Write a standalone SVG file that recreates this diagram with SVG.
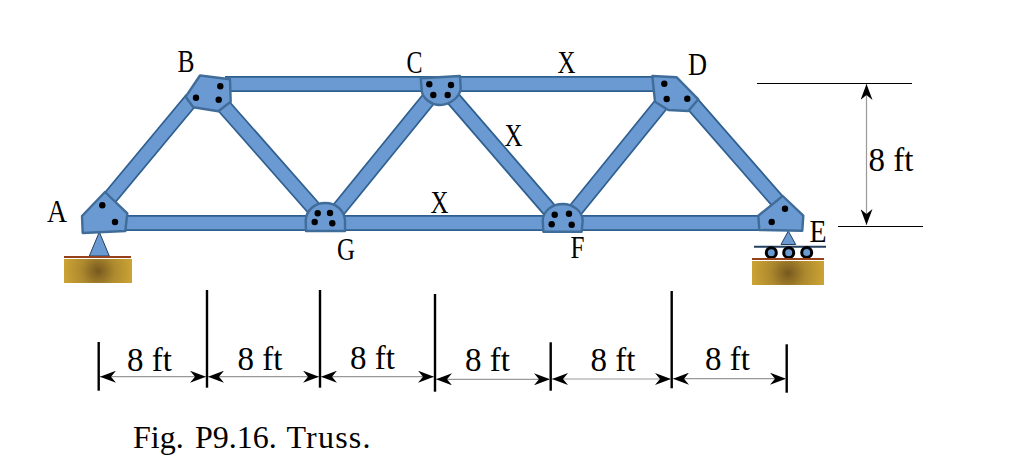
<svg xmlns="http://www.w3.org/2000/svg" width="1010" height="460" viewBox="0 0 1010 460">
<style>
text{font-family:"Liberation Serif","Times New Roman",serif;fill:#000}
.lb{font-size:31px}
.dm{font-size:33px}
.cap{font-size:32px}
.edge line{stroke:#2f5f8f;stroke-width:16}
.core line{stroke:#6b9ad3;stroke-width:12.5}
.gus{fill:#6b9ad3;stroke:#3f6c99;stroke-width:2.4;stroke-linejoin:round}
.hole{fill:#000}
.tick{stroke:#000;stroke-width:2.4}
.rule{stroke:#000;stroke-width:1.2}
.dim{stroke:#999;stroke-width:1.2;marker-start:url(#ah);marker-end:url(#ah)}
.sup{fill:#6b9ad3;stroke:#24415f;stroke-width:1}
.brown{stroke:#96401c;stroke-width:2}
.roller{fill:#6b9ad3;stroke:#000;stroke-width:3}
</style>
<defs>
<marker id="ah" viewBox="0 0 16 12" refX="16" refY="6" markerWidth="16" markerHeight="12" markerUnits="userSpaceOnUse" orient="auto-start-reverse"><path d="M16 6L0 0L5 6L0 12Z" fill="#000"/></marker>
<radialGradient id="grA" gradientUnits="userSpaceOnUse" cx="98" cy="271" r="34"><stop offset="0" stop-color="#77591f"/><stop offset="0.5" stop-color="#ae8a2e"/><stop offset="1" stop-color="#cba234"/></radialGradient>
<radialGradient id="grE" gradientUnits="userSpaceOnUse" cx="788" cy="273" r="36"><stop offset="0" stop-color="#77591f"/><stop offset="0.5" stop-color="#ae8a2e"/><stop offset="1" stop-color="#cba234"/></radialGradient>
</defs>
<g id="connectors">
<g class="edge">
<line x1="225" y1="84" x2="660" y2="84"/><line x1="120" y1="223" x2="765" y2="223"/>
<line x1="108" y1="200" x2="192" y2="99"/><line x1="221" y1="103" x2="317" y2="212"/><line x1="335" y1="214" x2="431" y2="96"/><line x1="451" y1="96" x2="553" y2="214"/><line x1="573" y1="213" x2="663" y2="102"/><line x1="690" y1="101" x2="780" y2="204"/>
</g>
<g class="core">
<line x1="225" y1="84" x2="660" y2="84"/><line x1="120" y1="223" x2="765" y2="223"/>
<line x1="108" y1="200" x2="192" y2="99"/><line x1="221" y1="103" x2="317" y2="212"/><line x1="335" y1="214" x2="431" y2="96"/><line x1="451" y1="96" x2="553" y2="214"/><line x1="573" y1="213" x2="663" y2="102"/><line x1="690" y1="101" x2="780" y2="204"/>
</g>
</g>
<g id="support-A">
<path class="sup" d="M99.3 232L89.3 256H109.3Z"/>
<line class="brown" x1="64" y1="257" x2="131" y2="257"/>
<rect x="64" y="259" width="68" height="24" fill="url(#grA)"/>
</g>
<g id="support-E">
<path class="sup" d="M788.3 231L781 244.5H795.7Z"/>
<line x1="754" y1="246.7" x2="826" y2="246.7" stroke="#24415f" stroke-width="2"/>
<circle class="roller" cx="771.3" cy="252.7" r="5"/><circle class="roller" cx="788.7" cy="252.7" r="5"/><circle class="roller" cx="806.7" cy="252.5" r="5"/>
<line class="brown" x1="752" y1="259" x2="824" y2="259"/>
<rect x="752" y="261" width="72" height="24" fill="url(#grE)"/>
</g>
<g id="node-A">
<path class="gus" d="M82 216L105 192L127.3 213.3L125.3 231L82.7 233Z"/>
<circle class="hole" cx="102.3" cy="205.3" r="3.2"/><circle class="hole" cx="115" cy="222" r="3.2"/>
<text class="lb" x="47" y="221.5" textLength="20" lengthAdjust="spacingAndGlyphs">A</text>
</g>
<g id="node-B">
<path class="gus" d="M185.7 96.7L200 75.5L230 79.3L230.7 101.7L218.3 111.3L193.3 107.3Z"/>
<circle class="hole" cx="220.3" cy="86.3" r="3.2"/><circle class="hole" cx="196" cy="97.7" r="3.2"/><circle class="hole" cx="218.7" cy="99.7" r="3.2"/>
<text class="lb" x="177.5" y="72" textLength="17" lengthAdjust="spacingAndGlyphs">B</text>
</g>
<g id="node-C">
<path class="gus" d="M420.7 78.3L460 76L460.7 88.3C460 97 450 105 440 105C431 105 422 98 421.7 90Z"/>
<circle class="hole" cx="429.3" cy="84.3" r="3.2"/><circle class="hole" cx="451" cy="85" r="3.2"/><circle class="hole" cx="433.3" cy="95" r="3.2"/><circle class="hole" cx="447.7" cy="95" r="3.2"/>
<text class="lb" x="406.5" y="72.7" textLength="16" lengthAdjust="spacingAndGlyphs">C</text>
</g>
<g id="node-D">
<path class="gus" d="M652.3 76L676.7 77.3L698.3 99.3L688.3 111L668.3 110L655 101.7Z"/>
<circle class="hole" cx="664.3" cy="83.7" r="3.2"/><circle class="hole" cx="666.7" cy="99" r="3.2"/><circle class="hole" cx="687.3" cy="98.7" r="3.2"/>
<text class="lb" x="688" y="75" textLength="19" lengthAdjust="spacingAndGlyphs">D</text>
</g>
<g id="node-E">
<path class="gus" d="M758.3 215.7L782.7 196L803.3 215.7L802.3 230.7L759.3 230Z"/>
<circle class="hole" cx="785" cy="208.7" r="3.2"/><circle class="hole" cx="771.7" cy="222" r="3.2"/>
<text class="lb" x="809.5" y="241.7" textLength="17" lengthAdjust="spacingAndGlyphs">E</text>
</g>
<g id="node-F">
<path class="gus" d="M543.3 231.7L542.7 220C543.5 211 552 204 562.7 204C573 204 582 211 582.7 220L581.7 231.7Z"/>
<circle class="hole" cx="554.7" cy="214.7" r="3.2"/><circle class="hole" cx="569" cy="213.7" r="3.2"/><circle class="hole" cx="551.7" cy="224.3" r="3.2"/><circle class="hole" cx="571.7" cy="224.7" r="3.2"/>
<text class="lb" x="570.5" y="258" textLength="14" lengthAdjust="spacingAndGlyphs">F</text>
</g>
<g id="node-G">
<path class="gus" d="M306 231L305.7 220C306.5 210 315 203 325 203C336 203 344 210 345 220L345 231Z"/>
<circle class="hole" cx="317.7" cy="213.3" r="3.2"/><circle class="hole" cx="330" cy="213" r="3.2"/><circle class="hole" cx="314.7" cy="222" r="3.2"/><circle class="hole" cx="332.3" cy="223.3" r="3.2"/>
<text class="lb" x="337" y="260" textLength="18" lengthAdjust="spacingAndGlyphs">G</text>
</g>
<g id="member-labels">
<text class="lb" x="557.5" y="73" textLength="18" lengthAdjust="spacingAndGlyphs">X</text>
<text class="lb" x="504.5" y="146" textLength="18" lengthAdjust="spacingAndGlyphs">X</text>
<text class="lb" x="430.5" y="212.7" textLength="18" lengthAdjust="spacingAndGlyphs">X</text>
</g>
<g id="dimensions">
<line class="rule" x1="757" y1="83.5" x2="912" y2="83.5"/>
<line class="rule" x1="838" y1="226.5" x2="923" y2="226.5"/>
<line class="dim" x1="866.5" y1="84" x2="866.5" y2="225"/>
<text class="dm" x="868.5" y="171">8 ft</text>
<line class="tick" x1="98.7" y1="342" x2="98.7" y2="390.7"/>
<line class="tick" x1="207" y1="290" x2="207" y2="387.7"/>
<line class="tick" x1="320" y1="290" x2="320" y2="387.7"/>
<line class="tick" x1="435" y1="294" x2="435" y2="391.7"/>
<line class="tick" x1="550.7" y1="342.3" x2="550.7" y2="390.7"/>
<line class="tick" x1="671.7" y1="291" x2="671.7" y2="388.3"/>
<line class="tick" x1="786.7" y1="344.3" x2="786.7" y2="392.7"/>
<line class="dim" x1="100" y1="376.7" x2="206" y2="376.7"/>
<line class="dim" x1="208" y1="376.7" x2="319" y2="376.7"/>
<line class="dim" x1="321" y1="376.7" x2="434" y2="376.7"/>
<line class="dim" x1="436" y1="379.3" x2="550" y2="379.3"/>
<line class="dim" x1="552" y1="379" x2="671" y2="379"/>
<line class="dim" x1="673" y1="378.7" x2="786" y2="378.7"/>
<text class="dm" x="127" y="371">8 ft</text>
<text class="dm" x="237.5" y="370">8 ft</text>
<text class="dm" x="350" y="369">8 ft</text>
<text class="dm" x="465" y="371">8 ft</text>
<text class="dm" x="590.5" y="371">8 ft</text>
<text class="dm" x="705" y="370">8 ft</text>
</g>
<text class="cap" y="447.7"><tspan x="133">Fig. </tspan><tspan x="195">P9.16. </tspan><tspan x="286.5" letter-spacing="1.2">Truss.</tspan></text>
</svg>
